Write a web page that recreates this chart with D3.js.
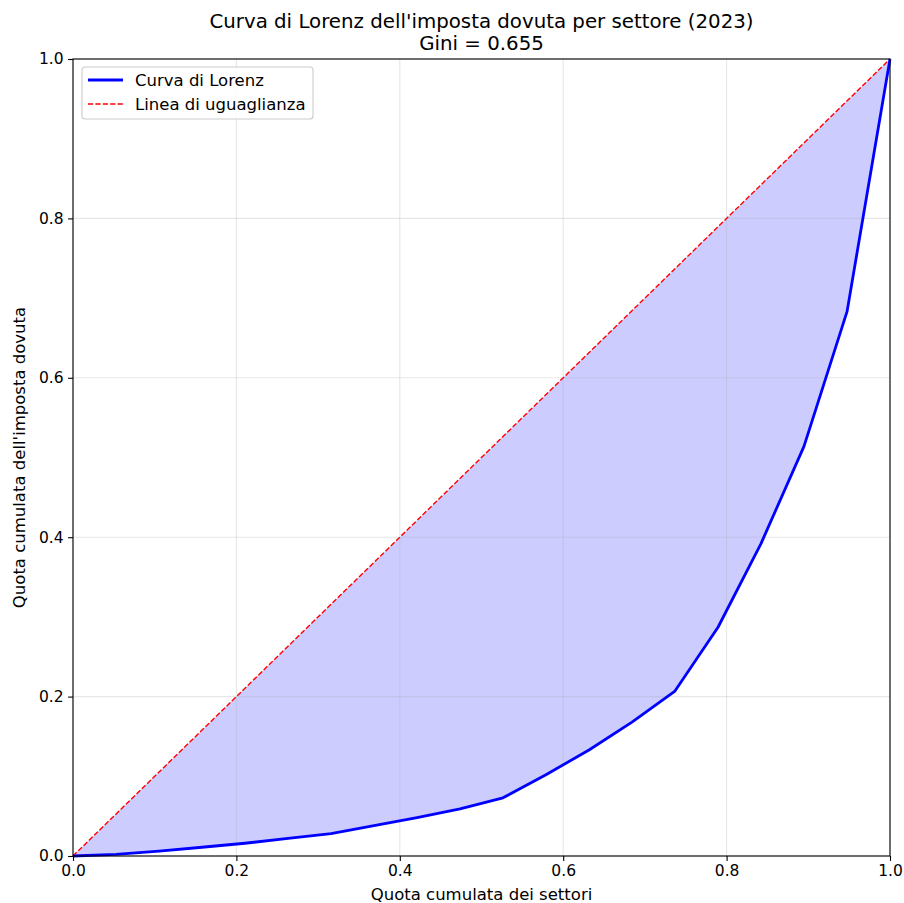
<!DOCTYPE html>
<html>
<head>
<meta charset="utf-8">
<script src="https://cdn.jsdelivr.net/npm/d3@7"></script>
<style>
  body { margin: 0; background: #fff; }
  svg { display: block; font-family: "DejaVu Sans", sans-serif; }
</style>
</head>
<body>
<div id="chart"></div>
<script>
// cumulative share of sectors (19 sectors)
const cumSectors = [0, 0.0526, 0.1053, 0.1579, 0.2105, 0.2632, 0.3158, 0.3684, 0.4211, 0.4737,
  0.5263, 0.5789, 0.6316, 0.6842, 0.7368, 0.7895, 0.8421, 0.8947, 0.9474, 1.0];
// cumulative share of tax owed
const cumTax = [0, 0.002, 0.006, 0.011, 0.016, 0.022, 0.028, 0.038, 0.048, 0.059,
  0.073, 0.102, 0.133, 0.168, 0.207, 0.287, 0.392, 0.514, 0.683, 1.0];
const equality = [0, 1];
const ticks = [0, 0.2, 0.4, 0.6, 0.8, 1.0];
const titleLines = ["Curva di Lorenz dell'imposta dovuta per settore (2023)", 'Gini = 0.655'];
const legendLabels = ['Curva di Lorenz', 'Linea di uguaglianza'];

const W = 904, H = 903;
const margin = { top: 59, right: 14, bottom: 47, left: 73 };
const width = W - margin.left - margin.right;
const height = H - margin.top - margin.bottom;

const svg = d3.select('#chart').append('svg').attr('width', W).attr('height', H);
const g = svg.append('g').attr('transform', `translate(${margin.left},${margin.top})`);

const x = d3.scaleLinear().domain([0, 1]).range([0, width]);
const y = d3.scaleLinear().domain([0, 1]).range([height, 0]);

const data = cumSectors.map((s, i) => ({ s, t: cumTax[i] }));

// Fill between Lorenz curve and equality line
g.append('path')
  .datum(data)
  .attr('fill', 'rgba(0,0,255,0.2)')
  .attr('d', d3.area().x((d) => x(d.s)).y0((d) => y(d.t)).y1((d) => y(d.s)));

// Grid (above fill, below lines)
const grid = g.append('g');
ticks.forEach((t) => {
  grid.append('line').attr('x1', x(t)).attr('x2', x(t)).attr('y1', 0).attr('y2', height);
  grid.append('line').attr('x1', 0).attr('x2', width).attr('y1', y(t)).attr('y2', y(t));
});
grid.selectAll('line').attr('stroke', '#b0b0b0').attr('stroke-opacity', 0.3).attr('stroke-width', 1.1);

// Equality line
g.append('path')
  .datum(equality)
  .attr('fill', 'none')
  .attr('stroke', 'red')
  .attr('stroke-width', 1.4)
  .attr('stroke-dasharray', '5.2,2.2')
  .attr('d', d3.line().x((d) => x(d)).y((d) => y(d)));

// Lorenz curve
g.append('path')
  .datum(data)
  .attr('fill', 'none')
  .attr('stroke', 'blue')
  .attr('stroke-width', 2.8)
  .attr('stroke-linejoin', 'round')
  .attr('d', d3.line().x((d) => x(d.s)).y((d) => y(d.t)));

// Axes
const fmt = d3.format('.1f');
const xAxis = g.append('g')
  .attr('transform', `translate(0,${height})`)
  .call(d3.axisBottom(x).tickValues(ticks).tickFormat(fmt).tickSizeOuter(0).tickSize(4.9).tickPadding(4.5));
const yAxis = g.append('g')
  .call(d3.axisLeft(y).tickValues(ticks).tickFormat(fmt).tickSizeOuter(0).tickSize(4.9).tickPadding(4.5));
[xAxis, yAxis].forEach((a) => {
  a.select('.domain').remove();
  a.selectAll('.tick line').attr('stroke', '#000').attr('stroke-width', 1.1);
  a.selectAll('text').attr('fill', '#000').attr('font-size', '15.5px').attr('font-family', 'DejaVu Sans');
});

// Spines
g.append('rect')
  .attr('width', width).attr('height', height)
  .attr('fill', 'none').attr('stroke', '#000').attr('stroke-width', 1.1);

// Axis labels
g.append('text')
  .attr('x', width / 2)
  .attr('y', height + 44)
  .attr('text-anchor', 'middle')
  .attr('font-size', '16.5px')
  .text('Quota cumulata dei settori');

g.append('text')
  .attr('transform', 'rotate(-90)')
  .attr('x', -height / 2)
  .attr('y', -48)
  .attr('text-anchor', 'middle')
  .attr('font-size', '16.5px')
  .text("Quota cumulata dell'imposta dovuta");

// Title
titleLines.forEach((t, i) => {
  svg.append('text')
    .attr('x', margin.left + width / 2)
    .attr('y', 28 + i * 22)
    .attr('text-anchor', 'middle')
    .attr('font-size', '19.8px')
    .text(t);
});

// Legend
const lg = g.append('g').attr('transform', 'translate(9,8)');
lg.append('rect')
  .attr('width', 231).attr('height', 52).attr('rx', 3)
  .attr('fill', 'rgba(255,255,255,0.8)').attr('stroke', '#cccccc').attr('stroke-width', 1.1);
const legStyles = [
  { color: 'blue', w: 2.8, dash: null },
  { color: 'red', w: 1.4, dash: '5.2,2.2' },
];
legendLabels.forEach((lab, i) => {
  const yy = 13 + i * 24;
  lg.append('line')
    .attr('x1', 6).attr('x2', 41).attr('y1', yy).attr('y2', yy)
    .attr('stroke', legStyles[i].color)
    .attr('stroke-width', legStyles[i].w)
    .attr('stroke-dasharray', legStyles[i].dash);
  lg.append('text')
    .attr('x', 53).attr('y', yy + 6)
    .attr('font-size', '16.5px')
    .text(lab);
});
</script>
</body>
</html>
